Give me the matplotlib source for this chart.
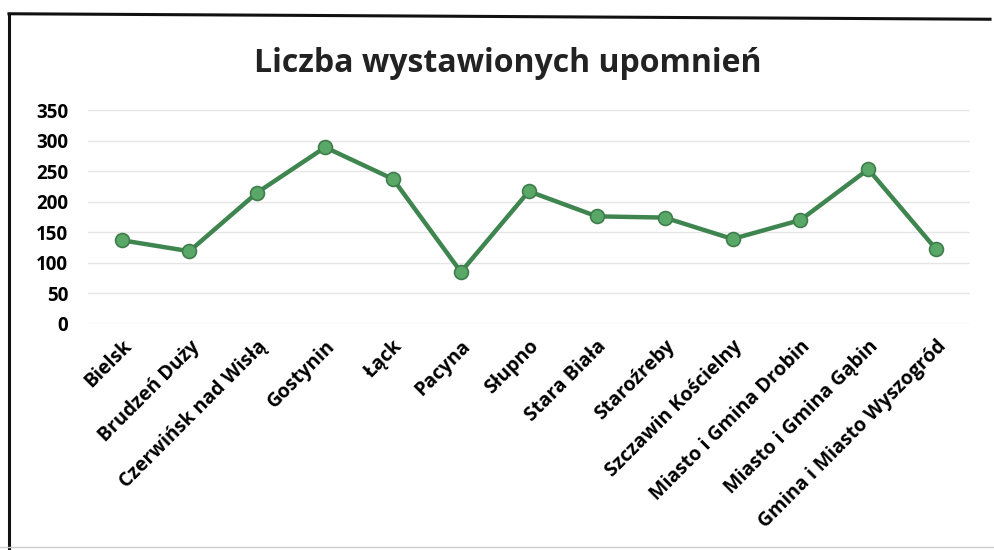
import matplotlib.pyplot as plt
from matplotlib.lines import Line2D

# Dane
gminy = ["Bielsk", "Brudzeń Duży", "Czerwińsk nad Wisłą", "Gostynin", "Łąck",
         "Pacyna", "Słupno", "Stara Biała", "Staroźreby", "Szczawin Kościelny",
         "Miasto i Gmina Drobin", "Miasto i Gmina Gąbin", "Gmina i Miasto Wyszogród"]
upomnienia = [137, 119, 215, 289, 237, 85, 217, 176, 174, 139, 170, 253, 122]
y_ticks = [0, 50, 100, 150, 200, 250, 300, 350]

plt.rcParams['font.family'] = ['Open Sans', 'DejaVu Sans']

fig = plt.figure(figsize=(9.95, 5.5), dpi=100)
ax = fig.add_axes([0.088, 0.411, 0.887, 0.389])

x = range(len(gminy))
ax.plot(x, upomnienia, color="#3f8550", linewidth=3.2, marker="o",
        markersize=10, markerfacecolor="#5aa868", markeredgecolor="#3f7d4c",
        markeredgewidth=1.2, zorder=3)

ax.set_xlim(-0.5, len(gminy) - 0.5)
ax.set_ylim(0, 350)
ax.set_yticks(y_ticks)
ax.set_yticklabels([str(v) for v in y_ticks], fontsize=13.5, fontweight="bold")
ax.set_xticks(list(x))
ax.set_xticklabels(gminy, rotation=45, ha="right", rotation_mode="anchor",
                   fontsize=14, fontweight="bold")
ax.tick_params(length=0)
ax.tick_params(axis="x", pad=9)
ax.tick_params(axis="y", pad=14)
ax.grid(axis="y", color="#e6e6e6", linewidth=1)
for s in ax.spines.values():
    s.set_visible(False)
ax.set_axisbelow(True)

fig.text(0.51, 0.885, "Liczba wystawionych upomnień", ha="center", va="center",
         fontsize=23, fontweight="bold", color="#222222")

# ramka wykresu (skan)
fig.add_artist(Line2D([0.009, 0.009], [0.0, 0.975], color="#111111", linewidth=2.2))
fig.add_artist(Line2D([0.009, 0.995], [0.975, 0.965], color="#111111", linewidth=2.2))
fig.add_artist(Line2D([0.0, 1.0], [0.006, 0.006], color="#cccccc", linewidth=1))

fig.savefig("out.png", dpi=100, facecolor="white")
